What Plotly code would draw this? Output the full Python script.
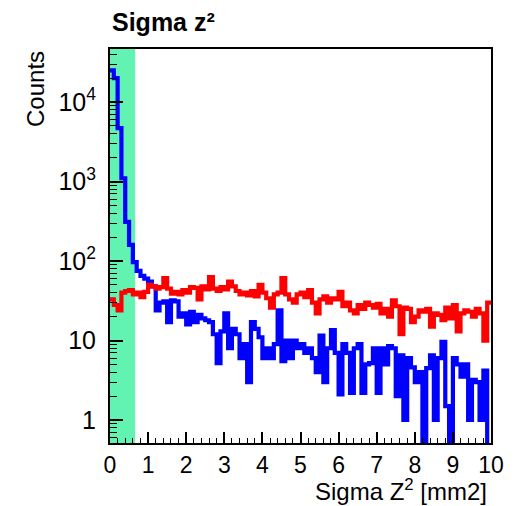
import numpy as np
import plotly.graph_objects as go

# ---- data ----
x_min, x_max, n_bins = 0.0, 10.0, 100
band_range = [0.0, 0.66]

blue_counts = [
    25000, 20000, 4700, 1100, 310, 160, 97, 75, 65, 60,
    55, 48, 24, 30, 31, 17, 32, 31, 20, 22,
    16, 23, 17, 21, 19, 18, 17, 12, 5.2, 13,
    22, 8, 14, 12, 6, 9, 3, 17, 14, 11,
    6, 8, 6, 9, 24, 5.5, 10, 6, 10, 8,
    9, 7, 8, 6, 4, 11.5, 3, 8, 13.5, 7,
    2.1, 9, 7, 2.2, 8, 9, 2.2, 5, 5.2, 8,
    2.2, 8, 5, 8.5, 8, 2, 6.5, 1, 6, 4.6,
    3, 4, 0, 4.5, 6.5, 1, 6, 9.6, 1.5, 0,
    6, 5, 3.5, 5, 1, 3.2, 3, 1, 4.2, 0,
]

red_counts = [
    33, 28, 24, 40, 42, 43, 38, 40, 35, 41,
    50, 48, 45, 47, 61, 45, 39, 41, 38, 43,
    40, 47, 46, 33, 48, 44, 63, 45, 42, 47,
    44, 55, 48, 42, 38, 40, 37, 42, 36, 50,
    40, 34, 26, 38, 40, 61, 38, 33, 30, 38,
    40, 35, 43, 30, 22, 33, 36, 30, 34, 33,
    41, 27, 30, 24, 22, 28, 25, 30, 28, 26,
    29, 22, 25, 20, 32, 27, 12, 26, 25, 17,
    20, 24, 23, 25, 15, 22, 21, 18, 26, 19,
    28, 13, 22, 24, 23, 20, 25, 22, 10, 30,
]

x_ticks = list(range(0, 11))
y_tick_vals = [1, 10, 100, 1000, 10000]
y_tick_text = ["1", "10", "10<sup>2</sup>", "10<sup>3</sup>", "10<sup>4</sup>"]

# ---- build step outlines ----
edges = np.linspace(x_min, x_max, n_bins + 1)


def steps(counts):
    v = np.asarray(counts, dtype=float)
    v = np.where(v > 0, v, 1e-3)  # empty bins drop below the axis (clipped)
    return edges, np.append(v, v[-1])


FONT = "Liberation Sans, Arial, Helvetica, sans-serif"

fig = go.Figure()
bx, by = steps(blue_counts)
rx, ry = steps(red_counts)
fig.add_trace(go.Scatter(x=bx, y=by, mode="lines", line=dict(color="#0000ff", width=4.2, shape="hv"),
                         showlegend=False, hoverinfo="skip"))
fig.add_trace(go.Scatter(x=rx, y=ry, mode="lines", line=dict(color="#ff0000", width=4.2, shape="hv"),
                         showlegend=False, hoverinfo="skip"))

fig.add_shape(type="rect", xref="x", yref="paper", x0=band_range[0], x1=band_range[1], y0=0, y1=1,
              fillcolor="#62F2B2", line=dict(width=0), layer="below")

fig.update_layout(
    width=516, height=506,
    margin=dict(l=110, r=15, t=49, b=63),
    paper_bgcolor="white", plot_bgcolor="white",
    font=dict(family=FONT, color="black", size=24),
    xaxis=dict(range=[x_min, x_max], tickvals=x_ticks, ticks="inside", ticklen=11, tickwidth=1.5,
               tickcolor="black", showline=True, linecolor="black", linewidth=2, mirror=True,
               showgrid=False, zeroline=False, tickfont=dict(size=23), ticklabelstandoff=0,
               minor=dict(ticks="inside", ticklen=5, tickwidth=1.2, tickcolor="black", dtick=0.2, showgrid=False)),
    yaxis=dict(type="log", range=[-0.289, 4.667], tickvals=y_tick_vals, ticktext=y_tick_text,
               ticks="inside", ticklen=13, tickwidth=1.5, tickcolor="black", showline=True,
               linecolor="black", linewidth=2, mirror=True, showgrid=False, zeroline=False,
               tickfont=dict(size=25), ticklabelstandoff=7,
               minor=dict(ticks="inside", ticklen=7, tickwidth=1.2, tickcolor="black", dtick="D1", showgrid=False)),
    annotations=[
        dict(text="<b>Sigma z²</b>", xref="paper", yref="paper", x=0.0, y=(443 - 22) / 394,
             xanchor="left", yanchor="middle", showarrow=False, font=dict(size=25, family=FONT)),
        dict(text="Counts", xref="paper", yref="paper", x=(33 - 110) / 391, y=1.0, textangle=-90,
             xanchor="center", yanchor="top", showarrow=False, font=dict(size=24, family=FONT)),
        dict(text="Sigma Z<sup>2</sup> [mm2]", xref="paper", yref="paper", x=0.995, y=(443 - 490) / 394,
             xanchor="right", yanchor="middle", showarrow=False, font=dict(size=24, family=FONT)),
    ],
)

fig.write_html("out.html")
